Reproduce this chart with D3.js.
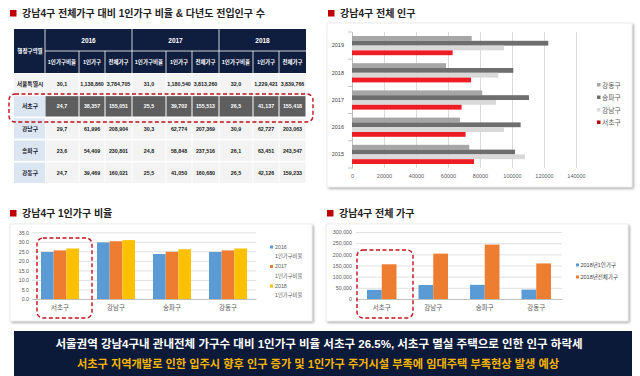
<!DOCTYPE html>
<html>
<head>
<meta charset="utf-8">
<script src="https://cdn.jsdelivr.net/npm/d3@7"></script>
<style>
  body { margin: 0; background: #fff; }
  text { font-family: "Liberation Sans", "Noto Sans CJK KR", sans-serif; }
</style>
</head>
<body>
<div id="chart-area"></div>
<script>
var width = 640;
var height = 376;

// table data
var tableYears = ["2016", "2017", "2018"];
var tableSubHeads = ["1인가구비율", "1인가구", "전체가구"];
var tableRowNames = ["서울특별시", "서초구", "강남구", "송파구", "강동구"];
var tableSeoul = ["30,1", "1,138,860", "3,784,705", "31,0", "1,180,540", "3,813,260", "32,0", "1,229,421", "3,839,766"];
var tableSeocho = ["24,7", "38,357", "155,051", "25,5", "39,702", "155,513", "26,5", "41,137", "155,418"];
var tableGangnam = ["29,7", "61,996", "208,904", "30,3", "62,774", "207,369", "30,9", "62,727", "203,063"];
var tableSongpa = ["23,6", "54,409", "230,801", "24,8", "58,848", "237,516", "26,1", "63,451", "243,547"];
var tableGangdong = ["24,7", "39,469", "160,021", "25,5", "41,050", "160,680", "26,5", "42,126", "159,233"];

// population chart
var popYears = ["2019", "2018", "2017", "2016", "2015"];
var popSeries = ["강동구", "송파구", "강남구", "서초구"];
var popGangdong = [74800, 58750, 81400, 67500, 73300];
var popSongpa = [122700, 100800, 110600, 105400, 101900];
var popGangnam = [95000, 91400, 90000, 95000, 108100];
var popSeocho = [62900, 74400, 68500, 71000, 76250];
var popTicks = [0, 20000, 40000, 60000, 80000, 100000, 120000, 140000];

// 1인가구 비율 chart
var districts = ["서초구", "강남구", "송파구", "강동구"];
var ratioSeries = ["2016", "2017", "2018"];
var ratio2016 = [24.7, 29.7, 23.6, 24.7];
var ratio2017 = [25.5, 30.3, 24.8, 25.5];
var ratio2018 = [26.5, 30.9, 26.1, 26.5];
var ratioTicks = [0, 5, 10, 15, 20, 25, 30, 35];

// 전체 가구 chart
var hhSeries = ["2018년1인가구", "2018년전체가구"];
var hhSingle = [41137, 62727, 63451, 42126];
var hhTotal = [155418, 203063, 243547, 159233];
var hhTicks = [0, 50000, 100000, 150000, 200000, 250000, 300000];

var titles = [
    { x: 10, y: 17, text: "강남4구 전체가구 대비 1인가구 비율 & 다년도 전입인구 수" },
    { x: 328, y: 17, text: "강남4구 전체 인구" },
    { x: 10, y: 217, text: "강남4구 1인가구 비율" },
    { x: 327, y: 217, text: "강남4구 전체 가구" }
];

var svg = d3.select("#chart-area")
    .append("svg")
    .attr("width", width)
    .attr("height", height);

var defs = svg.append("defs");
var shadow = defs.append("filter").attr("id", "shadow")
    .attr("x", "-5%").attr("y", "-5%").attr("width", "115%").attr("height", "120%");
shadow.append("feDropShadow")
    .attr("dx", 1.5).attr("dy", 1.5).attr("stdDeviation", 1.2)
    .attr("flood-color", "#000").attr("flood-opacity", 0.35);

// section titles
titles.forEach(function (t) {
    svg.append("rect")
        .attr("x", t.x).attr("y", t.y - 7)
        .attr("width", 6.5).attr("height", 6.5)
        .attr("fill", "#c00000");
    svg.append("text")
        .attr("x", t.x + 12).attr("y", t.y)
        .attr("font-size", "10px")
        .attr("font-weight", "bold")
        .attr("fill", "#222")
        .text(t.text);
});

// ---------- table ----------
var tableRows = [tableSeoul, tableSeocho, tableGangnam, tableSongpa, tableGangdong];
var tg = svg.append("g");
var yearX = d3.scaleBand().domain(tableYears).range([45, 306]);
var subOffset = d3.scaleOrdinal().domain(tableSubHeads).range([0, 34, 60]);
var subWidth = d3.scaleOrdinal().domain(tableSubHeads).range([34, 26, 27]);
var rowY = d3.scaleBand().domain(tableRowNames).range([74, 183]).paddingInner(0.08);
var navy = "#0f1e3f";

tg.append("rect").attr("x", 14).attr("y", 29).attr("width", 292).attr("height", 44).attr("fill", navy);
tg.append("text").attr("x", 30).attr("y", 53)
    .attr("text-anchor", "middle").attr("font-size", "5.5px").attr("font-weight", "bold")
    .attr("fill", "#fff").text("행정구역별");

tableYears.forEach(function (yr) {
    tg.append("line")
        .attr("x1", yearX(yr)).attr("x2", yearX(yr))
        .attr("y1", 29).attr("y2", 73)
        .attr("stroke", "#fff").attr("stroke-width", 0.8);
    tg.append("line")
        .attr("x1", yearX(yr)).attr("x2", yearX(yr) + yearX.bandwidth())
        .attr("y1", 51).attr("y2", 51)
        .attr("stroke", "#fff").attr("stroke-width", 0.8);
    tg.append("text")
        .attr("x", yearX(yr) + yearX.bandwidth() / 2).attr("y", 42.5)
        .attr("text-anchor", "middle").attr("font-size", "6.5px").attr("font-weight", "bold")
        .attr("fill", "#fff").text(yr);
    tableSubHeads.forEach(function (s, j) {
        var x0 = yearX(yr) + subOffset(s);
        if (j > 0) {
            tg.append("line").attr("x1", x0).attr("x2", x0).attr("y1", 51).attr("y2", 73)
                .attr("stroke", "#fff").attr("stroke-width", 0.8);
        }
        tg.append("text")
            .attr("x", x0 + subWidth(s) / 2).attr("y", 64)
            .attr("text-anchor", "middle").attr("font-size", "5.5px").attr("font-weight", "bold")
            .attr("fill", "#fff").text(s);
    });
});

tableRowNames.forEach(function (name, i) {
    var y0 = rowY(name);
    var h = rowY.bandwidth();
    var isSeocho = name === "서초구";
    var isSeoul = name === "서울특별시";
    tg.append("rect").attr("x", 14).attr("y", y0).attr("width", 31).attr("height", h)
        .attr("fill", isSeoul ? "#f4f4f4" : "#dce6f2");
    tg.append("text").attr("x", 30).attr("y", y0 + h / 2 + 2)
        .attr("text-anchor", "middle").attr("font-size", "5.8px").attr("font-weight", "bold")
        .attr("fill", "#1a1a2e").text(name);
    tableYears.forEach(function (yr, yi) {
        tableSubHeads.forEach(function (s, j) {
            var x0 = yearX(yr) + subOffset(s);
            tg.append("rect")
                .attr("x", x0 + 0.5).attr("y", y0)
                .attr("width", subWidth(s) - 1).attr("height", h)
                .attr("fill", isSeocho ? "#5e5e5e" : "#f3f3f3");
            tg.append("text")
                .attr("x", x0 + subWidth(s) / 2).attr("y", y0 + h / 2 + 2)
                .attr("text-anchor", "middle").attr("font-size", "5.3px").attr("font-weight", "bold")
                .attr("fill", isSeocho ? "#fff" : "#1a1a1a")
                .text(tableRows[i][yi * 3 + j]);
        });
    });
});

tg.append("rect")
    .attr("x", 9).attr("y", 94).attr("width", 304).attr("height", 28)
    .attr("rx", 6).attr("fill", "none")
    .attr("stroke", "#c0101a").attr("stroke-width", 1.4)
    .attr("stroke-dasharray", "4,2.5");

// ---------- population chart ----------
var pg = svg.append("g");
pg.append("rect").attr("x", 327).attr("y", 23).attr("width", 305).attr("height", 164)
    .attr("fill", "#fff").attr("stroke", "#e0e0e0").attr("stroke-width", 0.6)
    .attr("filter", "url(#shadow)");

var px = d3.scaleLinear().domain([0, 140000]).range([352, 576]);
var py = d3.scaleBand().domain(popYears).range([32, 168]);
var pInner = d3.scaleBand().domain(popSeries).range([4, py.bandwidth() - 4]);
var popColor = d3.scaleOrdinal().domain(popSeries).range(["#a6a6a6", "#6e6e6e", "#d9d9d9", "#ee1c25"]);
var popLegendColor = d3.scaleOrdinal().domain(popSeries).range(["#a6a6a6", "#6e6e6e", "#d9d9d9", "#c00000"]);
var popData = { "강동구": popGangdong, "송파구": popSongpa, "강남구": popGangnam, "서초구": popSeocho };

var pxAxis = d3.axisBottom(px).tickValues(popTicks).tickSize(-136).tickFormat(d3.format("d"));
var pxg = pg.append("g").attr("transform", "translate(0,168)").call(pxAxis);
pxg.select(".domain").remove();
pxg.selectAll("line").attr("stroke", "#d0d0d0").attr("stroke-width", 0.8);
pxg.selectAll("text").attr("font-size", "5.5px").attr("fill", "#595959").attr("y", 6);

var pyAxis = d3.axisLeft(py).tickSize(0);
var pyg = pg.append("g").attr("transform", "translate(352,0)").call(pyAxis);
pyg.select(".domain").attr("stroke", "#bfbfbf");
pyg.selectAll("text").attr("font-size", "5.5px").attr("fill", "#404040").attr("x", -8);
pg.selectAll(".ytick")
    .data(popYears.concat(["end"]))
    .enter().append("line")
    .attr("x1", 348).attr("x2", 352)
    .attr("y1", function (d) { return d === "end" ? 168 : py(d); })
    .attr("y2", function (d) { return d === "end" ? 168 : py(d); })
    .attr("stroke", "#bfbfbf");

popSeries.forEach(function (s) {
    pg.selectAll(".bar-" + s)
        .data(popYears)
        .enter().append("rect")
        .attr("x", px(0))
        .attr("y", function (d) { return py(d) + pInner(s); })
        .attr("width", function (d, i) { return px(popData[s][i]) - px(0); })
        .attr("height", pInner.bandwidth())
        .attr("fill", popColor(s));
});

var pLegend = pg.selectAll(".plegend").data(popSeries).enter().append("g")
    .attr("transform", function (d, i) { return "translate(597," + (86 + i * 12.5) + ")"; });
pLegend.append("rect").attr("x", 0).attr("y", -3).attr("width", 3.5).attr("height", 3.5)
    .attr("fill", function (d) { return popLegendColor(d); });
pLegend.append("text").attr("x", 5).attr("y", 1.5).attr("font-size", "6.8px")
    .attr("fill", "#595959").text(function (d) { return d; });

// ---------- 1인가구 비율 chart ----------
var rg = svg.append("g");
rg.append("rect").attr("x", 10).attr("y", 224).attr("width", 302).attr("height", 97)
    .attr("fill", "#fff").attr("stroke", "#e0e0e0").attr("stroke-width", 0.6)
    .attr("filter", "url(#shadow)");

var rx = d3.scaleBand().domain(districts).range([32, 256]);
var ry = d3.scaleLinear().domain([0, 35]).range([299, 232.3]);
var rInner = d3.scaleBand().domain(ratioSeries).range([9, 47]);
var ratioColor = d3.scaleOrdinal().domain(ratioSeries).range(["#5b9bd5", "#ed7d31", "#ffc000"]);
var ratioData = { "2016": ratio2016, "2017": ratio2017, "2018": ratio2018 };

var ryAxis = d3.axisLeft(ry).tickValues(ratioTicks).tickSize(-224).tickFormat(d3.format(".1f"));
var ryg = rg.append("g").attr("transform", "translate(32,0)").call(ryAxis);
ryg.select(".domain").remove();
ryg.selectAll("line").attr("stroke", "#d9d9d9").attr("stroke-width", 0.8);
ryg.selectAll("text").attr("font-size", "5.3px").attr("fill", "#595959").attr("x", -3);

var rxAxis = d3.axisBottom(rx).tickSize(0);
var rxg = rg.append("g").attr("transform", "translate(0,299)").call(rxAxis);
rxg.select(".domain").attr("stroke", "#bfbfbf");
rxg.selectAll("text").attr("font-size", "6.5px").attr("fill", "#595959").attr("y", 6);

ratioSeries.forEach(function (s) {
    rg.selectAll(".rbar-" + s)
        .data(districts)
        .enter().append("rect")
        .attr("x", function (d) { return rx(d) + rInner(s); })
        .attr("y", function (d, i) { return ry(ratioData[s][i]); })
        .attr("width", rInner.bandwidth())
        .attr("height", function (d, i) { return ry(0) - ry(ratioData[s][i]); })
        .attr("fill", ratioColor(s));
});

var rLegend = rg.selectAll(".rlegend").data(ratioSeries).enter().append("g")
    .attr("transform", function (d, i) { return "translate(270," + (247 + i * 19.5) + ")"; });
rLegend.append("rect").attr("x", 0).attr("y", -1.5).attr("width", 3).attr("height", 3)
    .attr("fill", function (d) { return ratioColor(d); });
rLegend.append("text").attr("x", 5).attr("y", 1.8).attr("font-size", "5.3px")
    .attr("fill", "#595959").text(function (d) { return d; });
rLegend.append("text").attr("x", 5).attr("y", 11).attr("font-size", "5.3px")
    .attr("fill", "#595959").text("1인가구비율");

rg.append("rect")
    .attr("x", 37).attr("y", 238).attr("width", 55).attr("height", 80)
    .attr("rx", 6).attr("fill", "none")
    .attr("stroke", "#c0101a").attr("stroke-width", 1.4)
    .attr("stroke-dasharray", "4,2.5");

// ---------- 전체 가구 chart ----------
var hg = svg.append("g");
hg.append("rect").attr("x", 326).attr("y", 224).attr("width", 302).attr("height", 97)
    .attr("fill", "#fff").attr("stroke", "#e0e0e0").attr("stroke-width", 0.6)
    .attr("filter", "url(#shadow)");

var hx = d3.scaleBand().domain(districts).range([356, 562]);
var hy = d3.scaleLinear().domain([0, 300000]).range([299, 232]);
var hInner = d3.scaleBand().domain(hhSeries).range([11, 40.5]);
var hhColor = d3.scaleOrdinal().domain(hhSeries).range(["#5b9bd5", "#ed7d31"]);
var hhData = { "2018년1인가구": hhSingle, "2018년전체가구": hhTotal };

var hyAxis = d3.axisLeft(hy).tickValues(hhTicks).tickSize(-206).tickFormat(d3.format(","));
var hyg = hg.append("g").attr("transform", "translate(356,0)").call(hyAxis);
hyg.select(".domain").remove();
hyg.selectAll("line").attr("stroke", "#d9d9d9").attr("stroke-width", 0.8);
hyg.selectAll("text").attr("font-size", "5.3px").attr("fill", "#595959").attr("x", -4);

var hxAxis = d3.axisBottom(hx).tickSize(0);
var hxg = hg.append("g").attr("transform", "translate(0,299)").call(hxAxis);
hxg.select(".domain").attr("stroke", "#bfbfbf");
hxg.selectAll("text").attr("font-size", "6.5px").attr("fill", "#595959").attr("y", 6);

hhSeries.forEach(function (s) {
    hg.selectAll(".hbar-" + s)
        .data(districts)
        .enter().append("rect")
        .attr("x", function (d) { return hx(d) + hInner(s); })
        .attr("y", function (d, i) { return hy(hhData[s][i]); })
        .attr("width", hInner.bandwidth())
        .attr("height", function (d, i) { return hy(0) - hy(hhData[s][i]); })
        .attr("fill", hhColor(s));
});

var hLegend = hg.selectAll(".hlegend").data(hhSeries).enter().append("g")
    .attr("transform", function (d, i) { return "translate(576," + (265 + i * 12) + ")"; });
hLegend.append("rect").attr("x", 0).attr("y", -1.5).attr("width", 3).attr("height", 3)
    .attr("fill", function (d) { return hhColor(d); });
hLegend.append("text").attr("x", 4.5).attr("y", 1.8).attr("font-size", "5.5px")
    .attr("fill", "#404040").text(function (d) { return d; });

hg.append("rect")
    .attr("x", 357).attr("y", 250).attr("width", 56).attr("height", 68)
    .attr("rx", 6).attr("fill", "none")
    .attr("stroke", "#c0101a").attr("stroke-width", 1.4)
    .attr("stroke-dasharray", "4,2.5");

// ---------- bottom banner ----------
svg.append("rect").attr("x", 14).attr("y", 331).attr("width", 618).attr("height", 45)
    .attr("fill", "#0c1a3a");
svg.append("text").attr("x", 319).attr("y", 348)
    .attr("text-anchor", "middle").attr("font-size", "11.5px").attr("font-weight", "bold")
    .attr("fill", "#fff")
    .text("서울권역 강남4구내 관내전체 가구수 대비 1인가구 비율 서초구 26.5%, 서초구 멸실 주택으로 인한 인구 하락세");
svg.append("text").attr("x", 318).attr("y", 368)
    .attr("text-anchor", "middle").attr("font-size", "11.2px").attr("font-weight", "bold")
    .attr("fill", "#f7b500")
    .text("서초구 지역개발로 인한 입주시 향후 인구 증가 및 1인가구 주거시설 부족에 임대주택 부족현상 발생 예상");
</script>
</body>
</html>
